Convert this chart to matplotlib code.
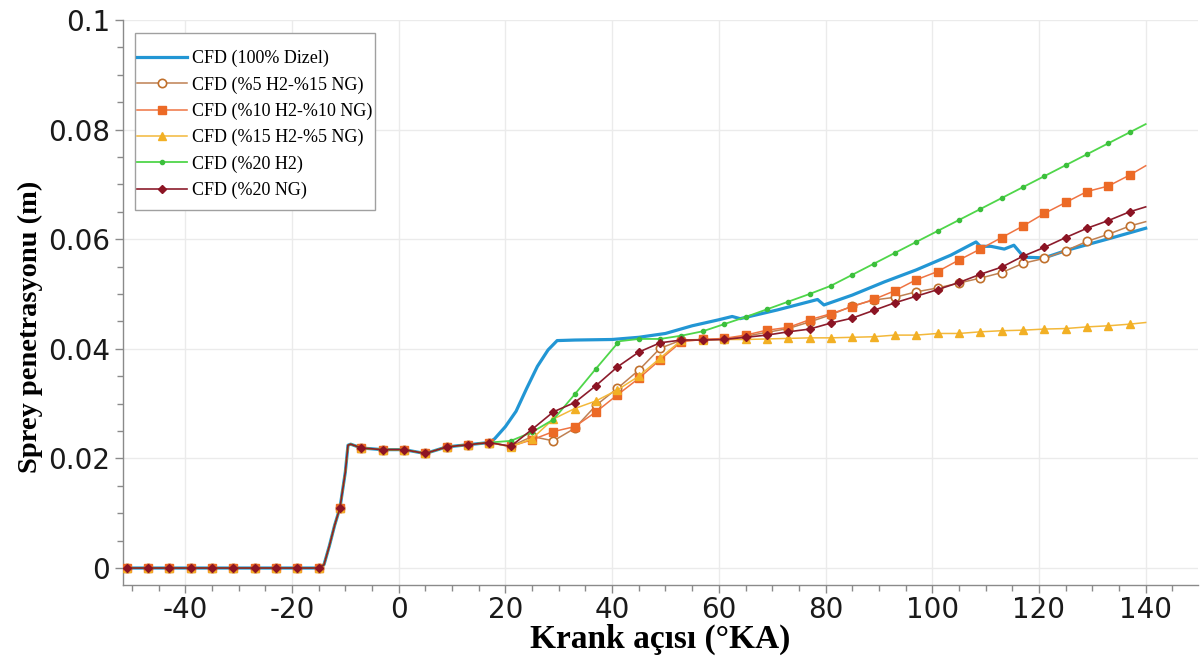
import numpy as np
import matplotlib
matplotlib.use("Agg")
import matplotlib.pyplot as plt
from matplotlib.ticker import MultipleLocator, FuncFormatter
from matplotlib.patches import Rectangle

plt.rcParams["axes.unicode_minus"] = False

# ---- shared early part (all cases identical until ~17 deg) ----
angle_base = [-51, -47, -43, -39, -35, -31, -27, -23, -19, -15, -14, -13, -12, -11,
              -10, -9.5, -9, -7, -3, 1, 5, 9, 13, 17]
pen_base = [0, 0, 0, 0, 0, 0, 0, 0, 0, 0, 0.0006, 0.004, 0.0078, 0.011,
            0.0175, 0.0224, 0.0226, 0.0219, 0.0216, 0.0216, 0.0209, 0.0221, 0.0225, 0.0229]

# ---- CFD (100% Dizel) ----
diesel_angle = [18, 20, 22, 24, 26, 28, 29.7, 33, 40, 45, 50, 55, 60, 62.5, 64, 71, 78.5,
                79.7, 85, 91, 97, 103.5, 108.2, 109, 111, 113.5, 115.3, 116.6, 117.5, 121,
                125.3, 133.5, 140]
diesel_pen = [0.0236, 0.0258, 0.0286, 0.0328, 0.0368, 0.0398, 0.0415, 0.0416, 0.0417,
              0.0421, 0.0428, 0.0442, 0.0453, 0.0459, 0.0455, 0.0471, 0.049, 0.048, 0.0498,
              0.0522, 0.0544, 0.0571, 0.0595, 0.0587, 0.0587, 0.0582, 0.0589, 0.0574,
              0.0567, 0.0566, 0.058, 0.0602, 0.062]

# common later angles for marker series
tail_angle = [21, 25, 29, 33, 37, 41, 45, 49, 53, 57, 61, 65, 69, 73, 77, 81, 85, 89, 93,
              97, 101, 105, 109, 113, 117, 121, 125, 129, 133, 137, 140]

# ---- CFD (%5 H2-%15 NG) ----
h5ng15_pen = [0.0222, 0.024, 0.0232, 0.0255, 0.0297, 0.0328, 0.0361, 0.0401, 0.0416,
              0.0417, 0.0418, 0.0423, 0.043, 0.0437, 0.0449, 0.0462, 0.0478, 0.0489,
              0.0494, 0.0504, 0.0511, 0.052, 0.0529, 0.0539, 0.0556, 0.0565, 0.0579,
              0.0596, 0.0609, 0.0624, 0.0632]

# ---- CFD (%10 H2-%10 NG) ----
h10ng10_pen = [0.0222, 0.0234, 0.0249, 0.0258, 0.0285, 0.0316, 0.0346, 0.038, 0.0413,
               0.0417, 0.0419, 0.0425, 0.0434, 0.0439, 0.0453, 0.0464, 0.0477, 0.049,
               0.0506, 0.0526, 0.0541, 0.0562, 0.0582, 0.0603, 0.0624, 0.0647, 0.0667,
               0.0687, 0.0697, 0.0717, 0.0734]

# ---- CFD (%15 H2-%5 NG) ----
h15ng5_pen = [0.0221, 0.0236, 0.0272, 0.0291, 0.0305, 0.0325, 0.035, 0.0383, 0.0416,
              0.0416, 0.0417, 0.0417, 0.0418, 0.0419, 0.042, 0.042, 0.0421, 0.0422,
              0.0425, 0.0425, 0.0428, 0.0428, 0.0431, 0.0433, 0.0434, 0.0436, 0.0437,
              0.044, 0.0442, 0.0445, 0.0448]

# ---- CFD (%20 H2) ----
h20_angle = [21, 25, 29, 33, 37, 41, 41.5, 45, 49, 53, 57, 61, 65, 69, 73, 77, 81, 85, 89,
             93, 97, 101, 105, 109, 113, 117, 121, 125, 129, 133, 137, 140]
h20_pen = [0.0232, 0.0248, 0.0271, 0.0317, 0.0364, 0.041, 0.0414, 0.0418, 0.0418, 0.0424,
           0.0432, 0.0445, 0.0458, 0.0472, 0.0486, 0.05, 0.0515, 0.0535, 0.0555, 0.0575,
           0.0595, 0.0615, 0.0635, 0.0655, 0.0675, 0.0695, 0.0715, 0.0735, 0.0755,
           0.0775, 0.0795, 0.081]

# ---- CFD (%20 NG) ----
ng20_pen = [0.0222, 0.0253, 0.0285, 0.0302, 0.0333, 0.0367, 0.0394, 0.0411, 0.0416,
            0.0416, 0.0417, 0.0421, 0.0425, 0.0431, 0.0436, 0.0447, 0.0456, 0.047,
            0.0484, 0.0496, 0.0508, 0.0521, 0.0536, 0.0549, 0.0569, 0.0585, 0.0603,
            0.062, 0.0634, 0.065, 0.0659]

labels = ["CFD (100% Dizel)", "CFD (%5 H2-%15 NG)", "CFD (%10 H2-%10 NG)",
          "CFD (%15 H2-%5 NG)", "CFD (%20 H2)", "CFD (%20 NG)"]

x_ticks = [-40, -20, 0, 20, 40, 60, 80, 100, 120, 140]
y_ticks = [0, 0.02, 0.04, 0.06, 0.08, 0.1]

W, H = 1204, 662
fig = plt.figure(figsize=(W / 100, H / 100), dpi=100)
ax = fig.add_axes([0.1020, 0.1163, 0.8930, 0.8535])


def full(tail_x, tail_y):
    x = np.array(angle_base + list(tail_x), dtype=float)
    y = np.array(pen_base + list(tail_y), dtype=float)
    return x, y


def marks(x):
    r = np.mod(x + 51, 4)
    return np.isclose(r, 0) | np.isclose(r, 4)


# diesel
x, y = full(diesel_angle, diesel_pen)
ax.plot(x, y, color="#2296d4", lw=2.3, label=labels[0], zorder=3)

# %5 H2 - %15 NG
x, y = full(tail_angle, h5ng15_pen)
ax.plot(x, y, color="#bf8052", lw=1.1, marker="o", ms=6, mfc="white", mec="#c0702c",
        mew=1.2, markevery=list(marks(x)), label=labels[1], zorder=4)

# %10 H2 - %10 NG
x, y = full(tail_angle, h10ng10_pen)
ax.plot(x, y, color="#ef7443", lw=1.1, marker="s", ms=6, mfc="#ec6a26", mec="#ec6a26",
        markevery=list(marks(x)), label=labels[2], zorder=4)

# %15 H2 - %5 NG
x, y = full(tail_angle, h15ng5_pen)
ax.plot(x, y, color="#f3b83a", lw=1.1, marker="^", ms=6, mfc="#f2b025", mec="#f2b025",
        markevery=list(marks(x)), label=labels[3], zorder=4)

# %20 H2
x, y = full(h20_angle, h20_pen)
ax.plot(x, y, color="#4fd64a", lw=1.3, marker="o", ms=3, mfc="#3cbf3c", mec="#3cbf3c",
        markevery=list(marks(x)), label=labels[4], zorder=4)

# %20 NG
x, y = full(tail_angle, ng20_pen)
ax.plot(x, y, color="#8c1c2c", lw=1.2, marker="D", ms=4.5, mfc="#8c1424", mec="#8c1424",
        markevery=list(marks(x)), label=labels[5], zorder=4.5)

ax.set_xlim(-51.7, 149.8)
ax.set_ylim(-0.0031, 0.1)
ax.set_xticks(x_ticks)
ax.set_yticks(y_ticks)
ax.xaxis.set_minor_locator(MultipleLocator(5))
ax.yaxis.set_minor_locator(MultipleLocator(0.005))
ax.yaxis.set_major_formatter(FuncFormatter(lambda v, p: "%g" % round(v, 4)))

ax.grid(True, which="major", color="#ebebeb", lw=1)
ax.set_axisbelow(True)
for s in ["top", "right"]:
    ax.spines[s].set_visible(False)
for s in ["left", "bottom"]:
    ax.spines[s].set_color("#8a8a8a")
    ax.spines[s].set_linewidth(1.0)

ax.tick_params(which="major", direction="out", length=6, width=1, color="#8a8a8a",
               labelsize=20, labelcolor="#1a1a1a")
ax.tick_params(axis="x", which="major", pad=2)
ax.tick_params(axis="y", which="major", pad=3)
ax.tick_params(which="minor", direction="out", length=4, width=1, color="#8a8a8a")

ax.set_xlabel("Krank açısı (°KA)", labelpad=0, family="Liberation Serif",
              weight="bold", size=24)
ax.set_ylabel("Sprey penetrasyonu (m)", family="Liberation Serif",
              weight="bold", size=20.5)
ax.yaxis.set_label_coords(-0.074, 0.457)

# legend frame (tight horizontally, roomy vertically as in the original)
frame = Rectangle((135 / W, 1 - 210 / H), 240 / W, 177 / H, transform=fig.transFigure,
                  facecolor="white", edgecolor="#a0a0a0", lw=1.0, clip_on=False,
                  zorder=9)
ax.add_patch(frame)

leg = ax.legend(loc="upper left", bbox_to_anchor=(137 / W, 1 - 50 / H),
                bbox_transform=fig.transFigure, borderaxespad=0, borderpad=0,
                prop=dict(family="Liberation Serif", size=13), frameon=False,
                handlelength=2.75, handletextpad=0.3, labelspacing=0.5)
leg.set_zorder(10)

fig.savefig("out.png", dpi=100)
